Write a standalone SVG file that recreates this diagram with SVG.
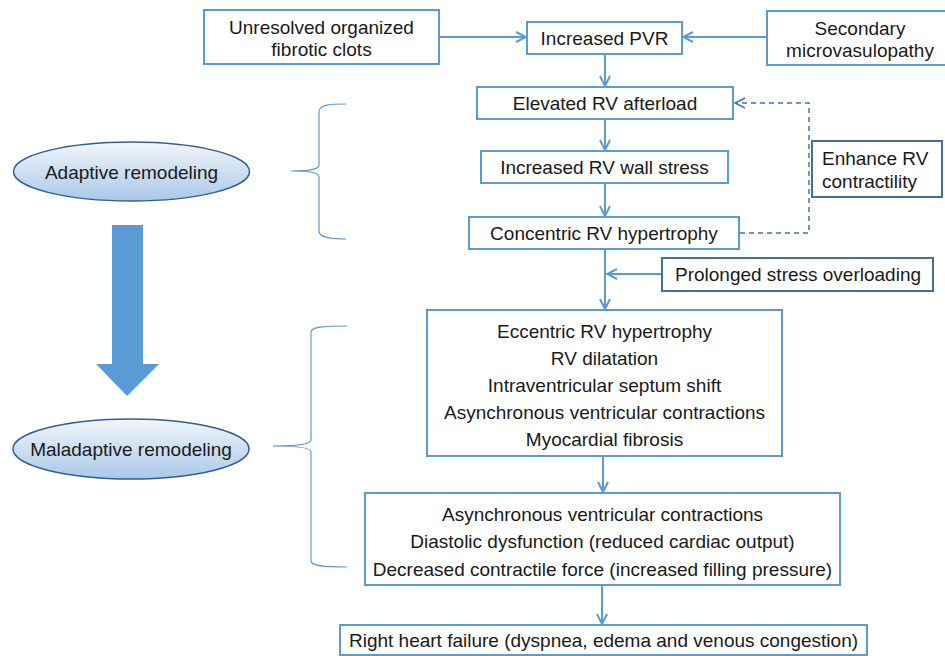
<svg xmlns="http://www.w3.org/2000/svg" width="945" height="656" viewBox="0 0 945 656">
<style>
text{font-family:"Liberation Sans",Arial,Helvetica,sans-serif;font-size:19px;fill:#1a1a1a;text-anchor:middle}
.box{fill:#fff;stroke:#5b9bd5;stroke-width:2}
.dbox{fill:#fff;stroke:#41719c;stroke-width:2}
.ell{fill:url(#g);stroke:#2f5f94;stroke-width:1.5}
.con{fill:none;stroke:#5b9bd5;stroke-width:2}
.dash{fill:none;stroke:#4a74a0;stroke-width:1.5;stroke-dasharray:5 4}
.brace{fill:none;stroke:#5b9bd5;stroke-width:1.2}
</style>
<defs>
<linearGradient id="g" x1="0" y1="0" x2="0" y2="1">
<stop offset="0" stop-color="#f2f6fb"/>
<stop offset="1" stop-color="#a9c8e8"/>
</linearGradient>
<marker id="a" viewBox="0 0 12 12" refX="11" refY="6" markerWidth="12" markerHeight="12" markerUnits="userSpaceOnUse" orient="auto">
<path d="M1,1 L11,6 L1,11" fill="none" stroke="#5b9bd5" stroke-width="2"/>
</marker>
<marker id="ad" viewBox="0 0 12 12" refX="11" refY="6" markerWidth="12" markerHeight="12" markerUnits="userSpaceOnUse" orient="auto">
<path d="M1,1 L11,6 L1,11" fill="none" stroke="#4a74a0" stroke-width="1.5"/>
</marker>
</defs>

<g id="connectors">
<path class="con" d="M439,37 L526,37" marker-end="url(#a)"/>
<path class="con" d="M767,37 L683,37" marker-end="url(#a)"/>
<path class="con" d="M605,54 L605,86" marker-end="url(#a)"/>
<path class="con" d="M605,119 L605,150" marker-end="url(#a)"/>
<path class="con" d="M605,183 L605,216" marker-end="url(#a)"/>
<path class="con" d="M605,249 L605,309" marker-end="url(#a)"/>
<path class="con" d="M662,274 L607,274" marker-end="url(#a)"/>
<path class="con" d="M603,456 L603,492" marker-end="url(#a)"/>
<path class="con" d="M602,585 L602,624" marker-end="url(#a)"/>
<path class="dash" d="M740,233 L809,233 L809,103 L735,103" marker-end="url(#ad)"/>
</g>

<g id="braces">
<path class="brace" d="M346,104 C328,104 319,105 319,112 L319,165 C319,169 312,171 291,171 C312,171 319,173 319,177 L319,231 C319,237 328,239 346,239"/>
<path class="brace" d="M347,326 C324,326 311,327 311,332 L311,440 C311,444 300,446 273,446 C300,446 311,448 311,452 L311,561 C311,566 324,567 347,567"/>
</g>

<g id="big-arrow">
<polygon points="112,225 143,225 143,364 159,364 127,396 96,364 112,364" fill="#5b9bd5"/>
</g>

<g id="adaptive">
<ellipse class="ell" cx="131.5" cy="171.5" rx="118" ry="29.5"/>
<text x="131.5" y="178.5">Adaptive remodeling</text>
</g>
<g id="maladaptive">
<ellipse class="ell" cx="131" cy="449" rx="118" ry="30"/>
<text x="131" y="456">Maladaptive remodeling</text>
</g>

<g id="clots">
<rect class="box" x="204" y="10" width="235" height="54"/>
<text x="321.5" y="34">Unresolved organized</text>
<text x="321.5" y="56">fibrotic clots</text>
</g>
<g id="pvr">
<rect class="box" x="527" y="22" width="155" height="32"/>
<text x="604.5" y="45">Increased PVR</text>
</g>
<g id="secondary">
<rect class="box" x="767" y="11" width="186" height="54"/>
<text x="860" y="35">Secondary</text>
<text x="860" y="57">microvasulopathy</text>
</g>
<g id="afterload">
<rect class="box" x="477" y="87" width="256" height="32"/>
<text x="605" y="110">Elevated RV afterload</text>
</g>
<g id="wallstress">
<rect class="box" x="481" y="151" width="247" height="32"/>
<text x="604.5" y="174">Increased RV wall stress</text>
</g>
<g id="concentric">
<rect class="box" x="469" y="217" width="270" height="32"/>
<text x="604" y="240">Concentric RV hypertrophy</text>
</g>
<g id="enhance">
<rect class="dbox" x="812" y="141" width="130" height="56"/>
<text x="822" y="165" style="text-anchor:start">Enhance RV</text>
<text x="822" y="188" style="text-anchor:start">contractility</text>
</g>
<g id="prolonged">
<rect class="dbox" x="662" y="258" width="271" height="33"/>
<text x="798" y="281">Prolonged stress overloading</text>
</g>
<g id="eccentric">
<rect class="box" x="427" y="310" width="355" height="146"/>
<text x="604.5" y="338">Eccentric RV hypertrophy</text>
<text x="604.5" y="365">RV dilatation</text>
<text x="604.5" y="392">Intraventricular septum shift</text>
<text x="604.5" y="419">Asynchronous ventricular contractions</text>
<text x="604.5" y="446">Myocardial fibrosis</text>
</g>
<g id="dysfunction">
<rect class="box" x="365" y="493" width="475" height="92"/>
<text x="602.5" y="521">Asynchronous ventricular contractions</text>
<text x="602.5" y="548">Diastolic dysfunction (reduced cardiac output)</text>
<text x="602.5" y="576">Decreased contractile force (increased filling pressure)</text>
</g>
<g id="failure">
<rect class="box" x="340" y="625" width="527" height="30"/>
<text x="603.5" y="647">Right heart failure (dyspnea, edema and venous congestion)</text>
</g>
</svg>
